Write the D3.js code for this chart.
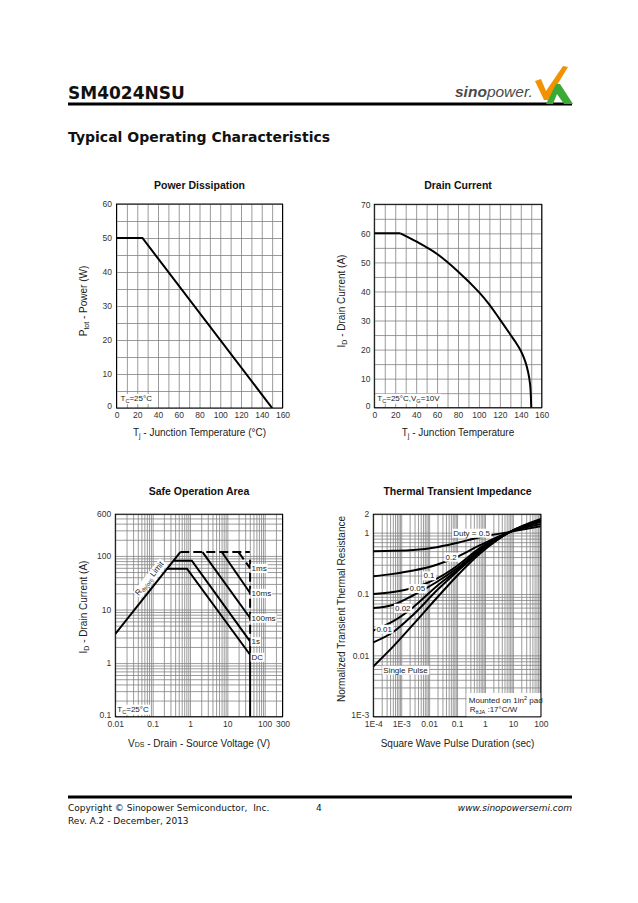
<!DOCTYPE html>
<meta charset="utf-8">
<head>
    <title>SM4024NSU - Typical Operating Characteristics</title>
    <script type="text/javascript" src="https://cdnjs.cloudflare.com/ajax/libs/d3/7.8.5/d3.min.js"></script>
    <style>
        body { margin: 0; background: #fff; }
        text { font-family: "Liberation Sans", Arial, sans-serif; }
        .grid line { stroke: #828282; stroke-width: 0.8; }
        .tl text { font-size: 8.5px; fill: #333; }
        .ttl { font-size: 10.5px; font-weight: bold; fill: #111; }
        .axt { font-size: 10px; fill: #222; }
        .note { font-size: 8px; fill: #222; }
        .curve { fill: none; stroke: #000; stroke-width: 2; }
        .page { font-family: "DejaVu Sans", Verdana, sans-serif; fill: #111; }
    </style>
</head>
<body>
<script>
    // ---------- data ----------
    // power dissipation
    var powerTemp = [0, 25, 150];
    var powerWatt = [50, 50, 0];
    var pdXTicks = [0, 20, 40, 60, 80, 100, 120, 140, 160];
    var pdYTicks = [0, 10, 20, 30, 40, 50, 60];

    // drain current
    var drainTemp = [0, 25, 40, 60, 80, 100, 110, 120, 130, 135, 140, 144, 147, 149, 150];
    var drainAmp  = [60, 60, 57.2, 52.9, 46.9, 39.8, 35.5, 30.4, 25.2, 22.6, 19.6, 16.2, 12.3, 7.8, 0];
    var dcXTicks = [0, 20, 40, 60, 80, 100, 120, 140, 160];
    var dcYTicks = [0, 10, 20, 30, 40, 50, 60, 70];

    // safe operation area (V, A)
    var soaRdsV = [0.01, 0.55],        soaRdsI = [3.5, 118];
    var soaPkgV = [0.55, 40],          soaPkgI = [118, 118];
    var soaDcV  = [0.24, 0.83, 40.7],  soaDcI  = [57.7, 57.7, 1.43];
    var soa1sV  = [0.36, 1.12, 40.7],  soa1sI  = [81.3, 81.3, 2.55];
    var soa100msV = [2.17, 40.7],      soa100msI = [118, 6.94];
    var soa10msV  = [7.13, 40.7],      soa10msI  = [118, 20.3];
    var soa1msV   = [19.9, 40.7],      soa1msI   = [118, 59];
    var soaBvV = [40.7, 40.7],         soaBvI = [85, 2.55];
    var soaBvDcV = [40.7, 40.7],       soaBvDcI = [2.55, 0.1];
    var soaXTicks = [0.01, 0.1, 1, 10, 100, 300];
    var soaXLabels = ["0.01", "0.1", "1", "10", "100", "300"];
    var soaYTicks = [0.1, 1, 10, 100, 600];
    var soaYLabels = ["0.1", "1", "10", "100", "600"];

    // thermal transient impedance
    var zthTime    = [1e-4, 5.2e-4, 2.7e-3, 0.0187, 0.097, 0.667, 7.9, 100];
    var zthDuty05  = [0.50, 0.505, 0.52, 0.58, 0.68, 0.84, 1.03, 1.27];
    var zthDuty02  = [0.195, 0.213, 0.241, 0.30, 0.40, 0.625, 1.03, 1.39];
    var zthDuty01  = [0.100, 0.108, 0.126, 0.178, 0.284, 0.565, 1.03, 1.50];
    var zthDuty005 = [0.059, 0.067, 0.0955, 0.157, 0.26, 0.53, 1.03, 1.54];
    var zthDuty002 = [0.0253, 0.036, 0.061, 0.134, 0.241, 0.51, 1.03, 1.58];
    var zthDuty001 = [0.0163, 0.024, 0.046, 0.114, 0.229, 0.486, 1.03, 1.62];
    var zthSingle  = [0.0066, 0.014, 0.032, 0.086, 0.195, 0.457, 1.03, 1.68];
    var zthXTicks = [1e-4, 1e-3, 0.01, 0.1, 1, 10, 100];
    var zthXLabels = ["1E-4", "1E-3", "0.01", "0.1", "1", "10", "100"];
    var zthYTicks = [1e-3, 0.01, 0.1, 1, 2];
    var zthYLabels = ["1E-3", "0.01", "0.1", "1", "2"];

    // ---------- page ----------
    var svg = d3.select('body').append('svg')
        .attr('width', 638)
        .attr('height', 903);

    function rich(t, parts) {
        var cur = 0;
        parts.forEach(function(p) {
            if (typeof p === 'string') p = {t: p};
            var shift = p.sub ? 2 : (p.sup ? -3 : 0);
            var s = t.append('tspan').text(p.t);
            if (shift !== cur) s.attr('dy', shift - cur);
            if (p.sub || p.sup || p.small) s.attr('font-size', '70%');
            cur = shift;
        });
        return t;
    }

    function boxedText(parent, x, y, parts, cls, anchor) {
        var t = parent.append('text').attr('class', cls)
            .attr('x', x).attr('y', y)
            .attr('text-anchor', anchor || 'start');
        rich(t, parts);
        var b = t.node().getBBox();
        parent.insert('rect', function() { return t.node(); })
            .attr('x', b.x - 1).attr('y', b.y)
            .attr('width', b.width + 2).attr('height', b.height)
            .attr('fill', '#fff');
        return t;
    }

    function logGrid(lo, hi) {
        var out = [];
        for (var e = Math.floor(Math.log10(lo)); e <= Math.ceil(Math.log10(hi)); e++) {
            for (var k = 1; k < 10; k++) {
                var v = +(k * Math.pow(10, e)).toPrecision(3);
                if (v >= lo * 0.999 && v <= hi * 1.001) out.push(v);
            }
        }
        return out;
    }

    var clipId = 0;
    function panel(box, x, y, xGrid, yGrid, xTicks, xLabels, yTicks, yLabels, yPad) {
        x.range([0, box.w]);
        y.range([box.h, 0]);
        var g = svg.append('g').attr('transform', 'translate(' + box.left + ',' + box.top + ')');

        g.append('g').attr('class', 'grid')
            .attr('transform', 'translate(0,' + box.h + ')')
            .call(d3.axisBottom(x).tickValues(xGrid).tickSize(-box.h).tickFormat(''))
            .call(function(a) { a.select('.domain').remove(); });
        g.append('g').attr('class', 'grid')
            .call(d3.axisLeft(y).tickValues(yGrid).tickSize(-box.w).tickFormat(''))
            .call(function(a) { a.select('.domain').remove(); });

        g.append('g').attr('class', 'tl')
            .attr('transform', 'translate(0,' + box.h + ')')
            .call(d3.axisBottom(x).tickValues(xTicks).tickSize(0).tickPadding(4)
                .tickFormat(function(d, i) { return xLabels[i]; }))
            .call(function(a) { a.select('.domain').remove(); });
        g.append('g').attr('class', 'tl')
            .call(d3.axisLeft(y).tickValues(yTicks).tickSize(0).tickPadding(yPad)
                .tickFormat(function(d, i) { return yLabels[i]; }))
            .call(function(a) {
                a.select('.domain').remove();
                // lowest label sits a little above the corner, as in the sheet
                a.select('.tick text').attr('dy', '0.1em');
            });

        g.append('rect').attr('width', box.w).attr('height', box.h)
            .attr('fill', 'none').attr('stroke', '#000').attr('stroke-width', 1);

        clipId++;
        g.append('clipPath').attr('id', 'clip' + clipId)
            .append('rect').attr('width', box.w).attr('height', box.h);
        g.plot = g.append('g').attr('clip-path', 'url(#clip' + clipId + ')');
        return g;
    }

    function titles(cx, ty, title, bx, bottomParts, lx, ly, leftParts) {
        svg.append('text').attr('class', 'ttl').attr('x', cx).attr('y', ty)
            .attr('text-anchor', 'middle').text(title);
        rich(svg.append('text').attr('class', 'axt').attr('x', cx).attr('y', bx)
            .attr('text-anchor', 'middle'), bottomParts);
        rich(svg.append('text').attr('class', 'axt')
            .attr('transform', 'translate(' + lx + ',' + ly + ') rotate(-90)')
            .attr('text-anchor', 'middle'), leftParts);
    }

    // header
    svg.append('text').attr('class', 'page').attr('x', 68).attr('y', 99)
        .attr('font-size', 17).attr('font-weight', 'bold').text('SM4024NSU');
    svg.append('rect').attr('x', 68).attr('y', 102.5).attr('width', 504).attr('height', 3).attr('fill', '#000');
    svg.append('text').attr('class', 'page').attr('x', 68).attr('y', 142)
        .attr('font-size', 14).attr('font-weight', 'bold').text('Typical Operating Characteristics');

    var logo = svg.append('text').attr('x', 455).attr('y', 97)
        .attr('font-size', 15.5).attr('font-style', 'italic').attr('fill', '#4a4a4a');
    logo.append('tspan').attr('font-weight', 'bold').text('sino');
    logo.append('tspan').text('power.');
    // logo mark: orange tick and green peak
    svg.append('polygon').attr('fill', '#f39200')
        .attr('points', '535,81 541,79 546,91 563,66 568,67 548,100 544,100');
    svg.append('polygon').attr('fill', '#3aa935')
        .attr('points', '546,104 556,84 560,84 573,104 564,104 557,94 553,104');

    // ---------- Power Dissipation ----------
    var pdBox = {left: 116.5, top: 204, w: 166, h: 204};
    var pdX = d3.scaleLinear().domain([0, 160]);
    var pdY = d3.scaleLinear().domain([0, 60]);
    var g1 = panel(pdBox, pdX, pdY, d3.range(0, 161, 10), d3.range(0, 61, 5),
        pdXTicks, pdXTicks.map(String), pdYTicks, pdYTicks.map(String), 4.5);
    g1.plot.append('path').datum(d3.zip(powerTemp, powerWatt)).attr('class', 'curve')
        .attr('d', d3.line().x(function(d) { return pdX(d[0]); }).y(function(d) { return pdY(d[1]); }));
    boxedText(g1, 4, 197, ['T', {t: 'C', sub: true}, '=25°C'], 'note');
    titles(199.5, 189, 'Power Dissipation', 436, ['T', {t: 'j', sub: true}, ' - Junction Temperature (°C)'],
        87, 301, ['P', {t: 'tot', sub: true}, ' - Power (W)']);

    // ---------- Drain Current ----------
    var dcBox = {left: 374.3, top: 204.3, w: 167.4, h: 203.4};
    var dcX = d3.scaleLinear().domain([0, 160]);
    var dcY = d3.scaleLinear().domain([0, 70]);
    var g2 = panel(dcBox, dcX, dcY, d3.range(0, 161, 10), d3.range(0, 71, 5),
        dcXTicks, dcXTicks.map(String), dcYTicks, dcYTicks.map(String), 3.8);
    var drainPts = d3.zip(drainTemp, drainAmp);
    var dcLine = d3.line().x(function(d) { return dcX(d[0]); }).y(function(d) { return dcY(d[1]); });
    // flat part straight, the roll-off smoothed
    g2.plot.append('path').datum(drainPts.slice(0, 2)).attr('class', 'curve').attr('d', dcLine);
    g2.plot.append('path').datum(drainPts.slice(1)).attr('class', 'curve')
        .attr('d', dcLine.curve(d3.curveCatmullRom.alpha(0.5)));
    boxedText(g2, 3, 196.5, ['T', {t: 'C', sub: true}, '=25°C,V', {t: 'G', sub: true}, '=10V'], 'note');
    titles(458, 189, 'Drain Current', 436, ['T', {t: 'j', sub: true}, ' - Junction Temperature'],
        345, 301, ['I', {t: 'D', sub: true}, ' - Drain Current (A)']);

    // ---------- Safe Operation Area ----------
    var soaBox = {left: 115.3, top: 514.2, w: 167.2, h: 202.5};
    var soaX = d3.scaleLog().domain([0.01, 300]);
    var soaY = d3.scaleLog().domain([0.1, 600]);
    var g3 = panel(soaBox, soaX, soaY, logGrid(0.01, 300), logGrid(0.1, 600),
        soaXTicks, soaXLabels, soaYTicks, soaYLabels, 4);
    var soaLine = d3.line().x(function(d) { return soaX(d[0]); }).y(function(d) { return soaY(d[1]); });
    function soaPath(v, i, dashed) {
        var p = g3.plot.append('path').datum(d3.zip(v, i)).attr('class', 'curve')
            .attr('stroke-width', 1.8).attr('d', soaLine);
        if (dashed) p.attr('stroke-dasharray', '9,4');
    }
    soaPath(soaRdsV, soaRdsI);
    soaPath(soaPkgV, soaPkgI, true);
    soaPath(soaDcV, soaDcI);
    soaPath(soa1sV, soa1sI);
    soaPath(soa100msV, soa100msI);
    soaPath(soa10msV, soa10msI);
    soaPath(soa1msV, soa1msI, true);
    soaPath(soaBvV, soaBvI, true);
    soaPath(soaBvDcV, soaBvDcI);

    var soaEnds = [["1ms", soa1msI], ["10ms", soa10msI], ["100ms", soa100msI], ["1s", soa1sI], ["DC", soaDcI]];
    soaEnds.forEach(function(e, k) {
        var last = e[1][e[1].length - 1];
        boxedText(g3, soaX(40.7) + 1.5, soaY(last) + (k === 4 ? 5 : 2.8), [e[0]], 'note');
    });

    // Rds(on) limit label, along the line
    var rx0 = soaX(soaRdsV[0]), ry0 = soaY(soaRdsI[0]);
    var rx1 = soaX(soaRdsV[1]), ry1 = soaY(soaRdsI[1]);
    var ang = Math.atan2(ry1 - ry0, rx1 - rx0);
    var f = 0.62;
    var lx = rx0 + f * (rx1 - rx0) + 8 * Math.sin(ang);
    var ly = ry0 + f * (ry1 - ry0) - 8 * Math.cos(ang);
    var rg = g3.append('g').attr('transform', 'translate(' + lx + ',' + ly + ') rotate(' + (ang * 180 / Math.PI) + ')');
    boxedText(rg, 0, 2.8, ['R', {t: 'ds(on)', sub: true}, ' Limit'], 'note', 'middle');

    boxedText(g3, 2, 197.5, ['T', {t: 'C', sub: true}, '=25°C'], 'note');
    titles(199, 495, 'Safe Operation Area', 747, ['V', {t: 'DS', small: true}, ' - Drain - Source Voltage (V)'],
        87, 607, ['I', {t: 'D', sub: true}, ' - Drain Current (A)']);

    // ---------- Thermal Transient Impedance ----------
    var zthBox = {left: 373.3, top: 514.2, w: 167.5, h: 202.5};
    var zthX = d3.scaleLog().domain([1e-4, 100]);
    var zthY = d3.scaleLog().domain([1e-3, 2]);
    var g4 = panel(zthBox, zthX, zthY, logGrid(1e-4, 100), logGrid(1e-3, 2),
        zthXTicks, zthXLabels, zthYTicks, zthYLabels, 4);
    var zthLine = d3.line().curve(d3.curveMonotoneX)
        .x(function(d) { return zthX(d[0]); }).y(function(d) { return zthY(d[1]); });
    [zthDuty05, zthDuty02, zthDuty01, zthDuty005, zthDuty002, zthDuty001, zthSingle].forEach(function(s) {
        g4.plot.append('path').datum(d3.zip(zthTime, s)).attr('class', 'curve')
            .attr('stroke-width', 1.8).attr('d', zthLine);
    });
    var zthNotes = [
        ["Duty = 0.5", 0.33, 0.99], ["0.2", 0.061, 0.403], ["0.1", 0.0099, 0.2],
        ["0.05", 3.78e-3, 0.124], ["0.02", 1.14e-3, 0.0593], ["0.01", 2.46e-4, 0.027],
        ["Single Pulse", 1.43e-3, 0.00578]
    ];
    zthNotes.forEach(function(n) {
        boxedText(g4, zthX(n[1]), zthY(n[2]) + 2.8, [n[0]], 'note', 'middle');
    });
    g4.append('rect').attr('x', 93.4).attr('y', 178.8).attr('width', 73.6).attr('height', 23.2).attr('fill', '#fff');
    rich(g4.append('text').attr('class', 'note').attr('x', 95.5).attr('y', 188.5),
        ['Mounted on 1in', {t: '2', sup: true}, ' pad']);
    rich(g4.append('text').attr('class', 'note').attr('x', 96.5).attr('y', 198),
        ['R', {t: 'θJA', sub: true}, ' :17°C/W']);
    titles(457.5, 495, 'Thermal Transient Impedance', 747, ['Square Wave Pulse Duration (sec)'],
        345, 609, ['Normalized Transient Thermal Resistance']);

    // footer
    svg.append('rect').attr('x', 68).attr('y', 795.5).attr('width', 504).attr('height', 3).attr('fill', '#000');
    svg.append('text').attr('class', 'page').attr('x', 68).attr('y', 811).attr('font-size', 9)
        .attr('xml:space', 'preserve').style('white-space', 'pre')
        .text('Copyright \u00a9 Sinopower Semiconductor,  Inc.');
    svg.append('text').attr('class', 'page').attr('x', 316).attr('y', 811).attr('font-size', 9).text('4');
    svg.append('text').attr('class', 'page').attr('x', 572).attr('y', 811).attr('font-size', 9)
        .attr('font-style', 'italic').attr('text-anchor', 'end').text('www.sinopowersemi.com');
    svg.append('text').attr('class', 'page').attr('x', 68).attr('y', 824).attr('font-size', 9)
        .text('Rev. A.2 - December, 2013');
</script>
</body>
</html>
